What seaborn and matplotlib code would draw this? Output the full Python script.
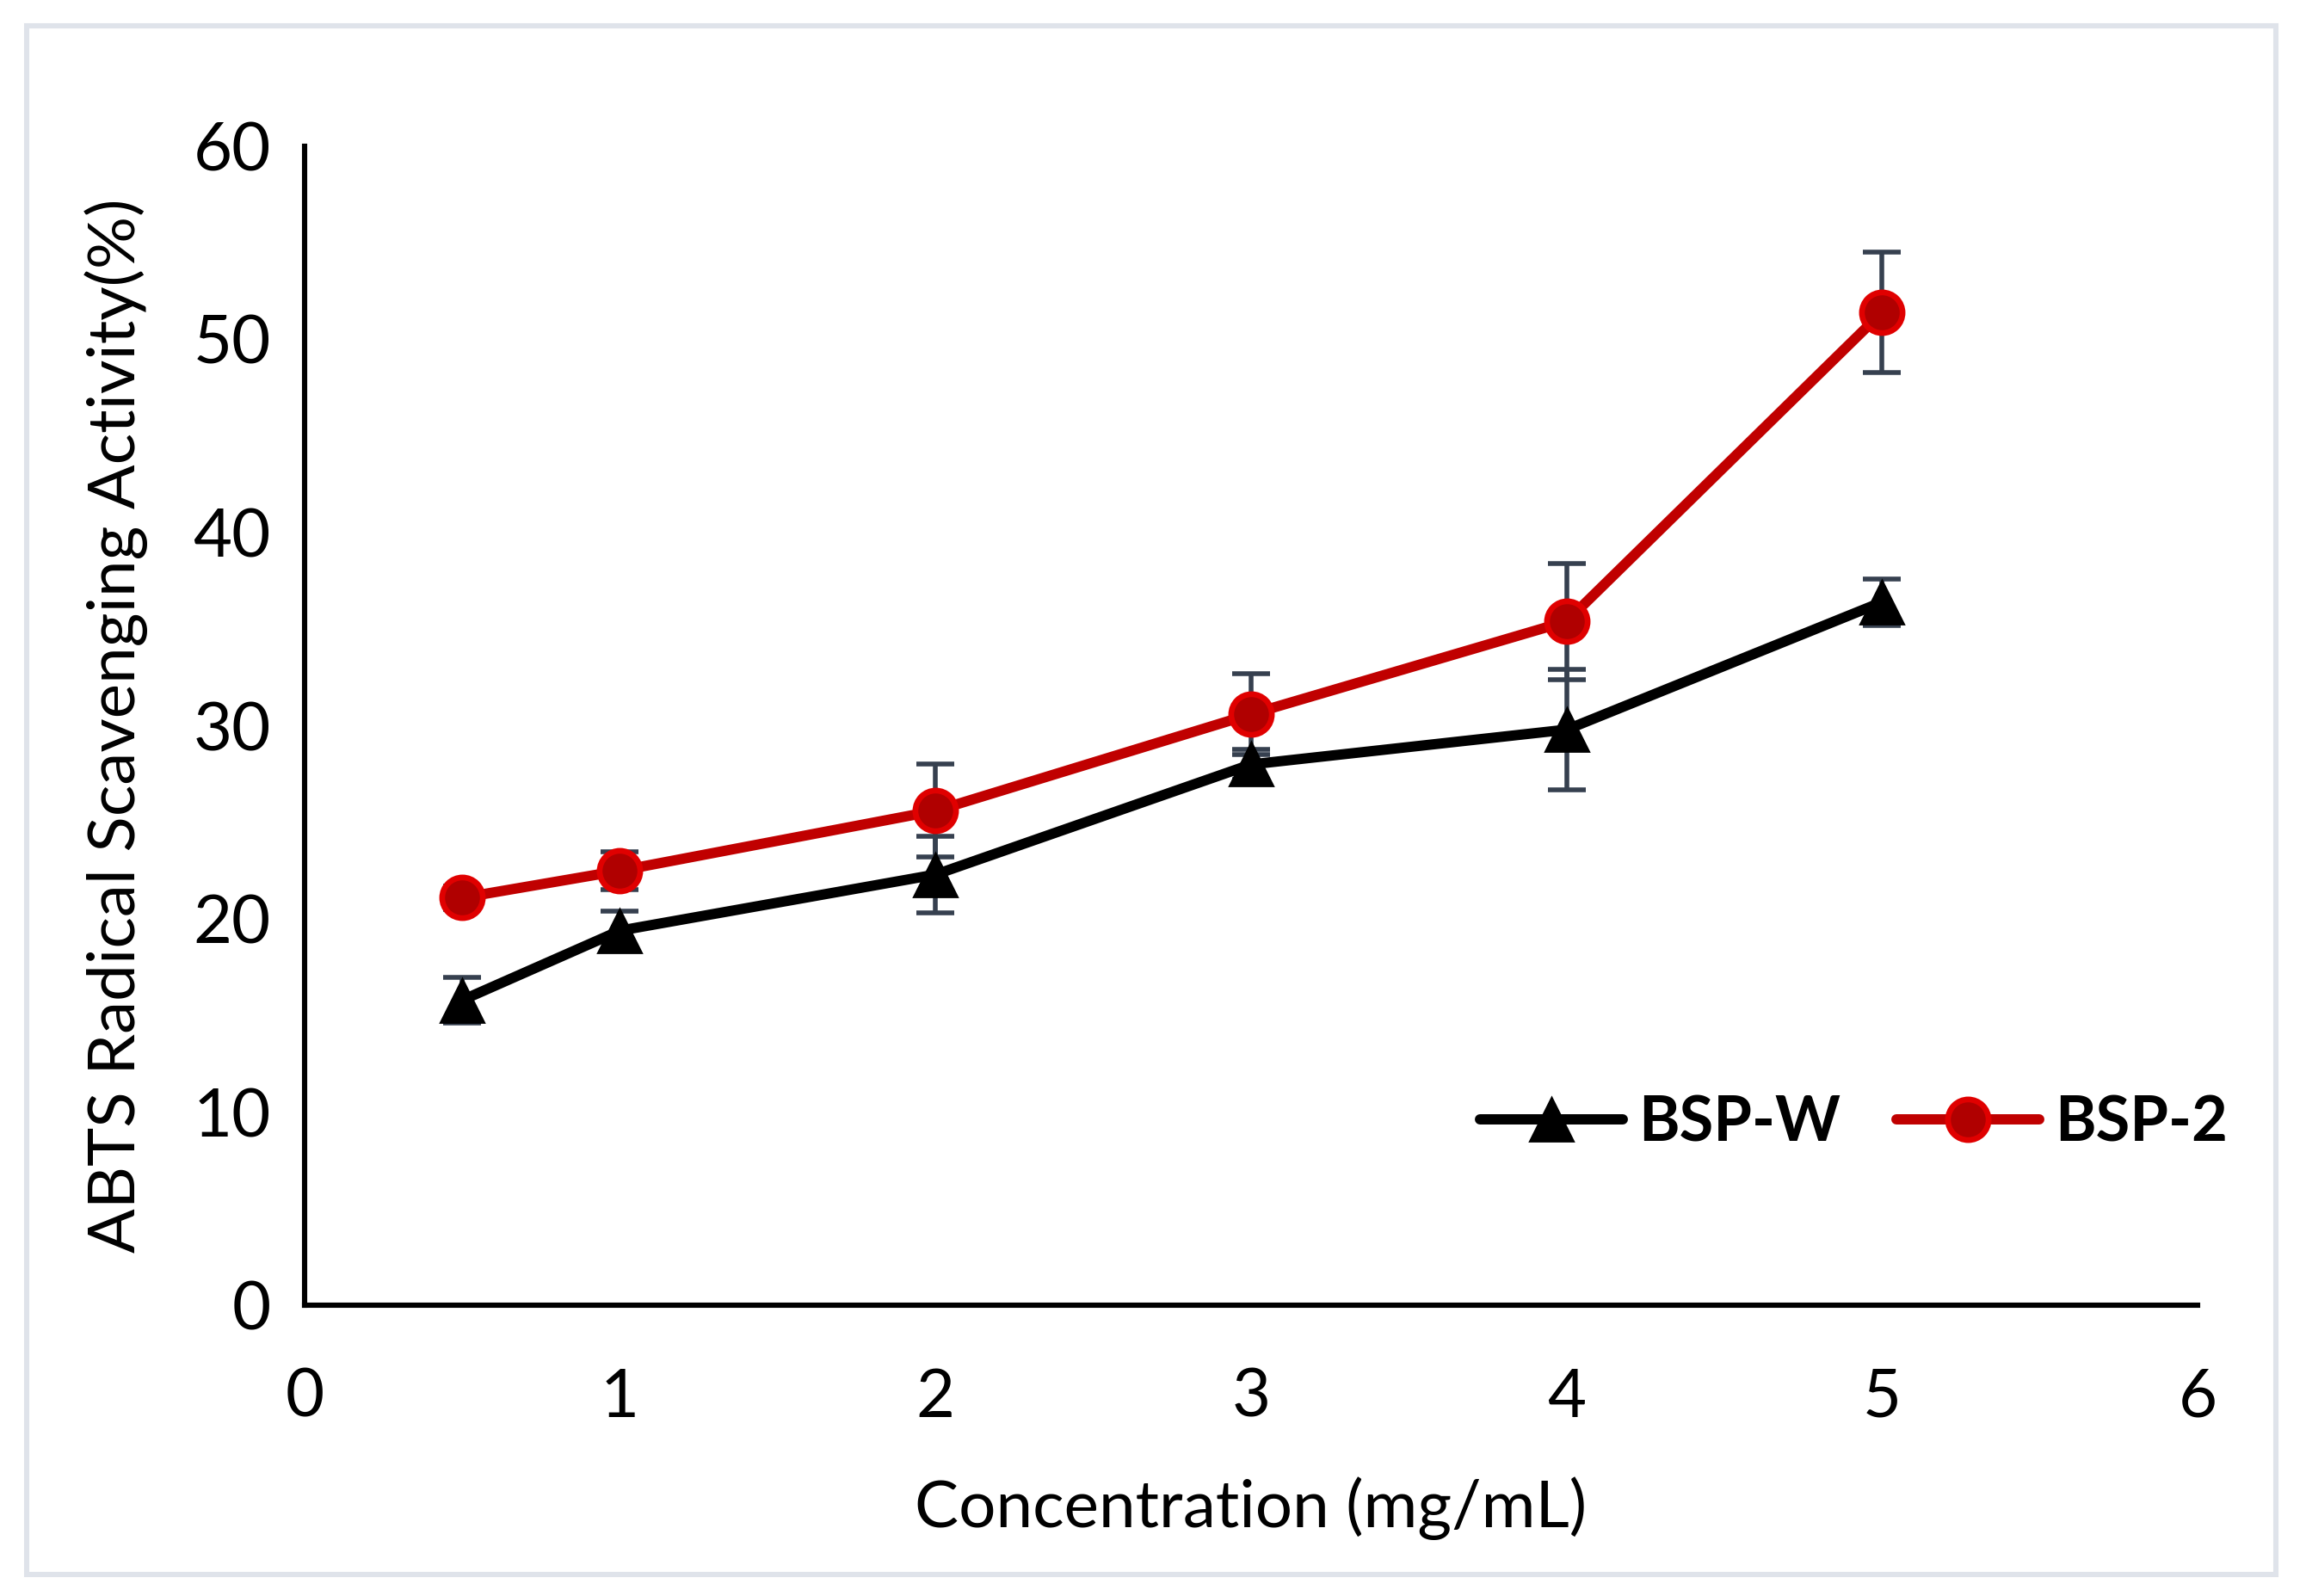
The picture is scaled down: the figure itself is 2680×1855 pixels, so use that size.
import matplotlib
matplotlib.use('Agg')
import matplotlib.pyplot as plt
import seaborn as sns
import pandas as pd
from matplotlib.patches import Rectangle

# data
conc = [0.5, 1, 2, 3, 4, 5]
bsp_w = [15.8, 19.4, 22.3, 28.0, 29.8, 36.4]
bsp_w_err = [1.2, 1.0, 2.0, 0.8, 3.1, 1.2]
bsp_2 = [21.1, 22.5, 25.6, 30.6, 35.4, 51.4]
bsp_2_err = [0.6, 1.0, 2.4, 2.1, 3.0, 3.1]

x_ticks = [0, 1, 2, 3, 4, 5, 6]
y_ticks = [0, 10, 20, 30, 40, 50, 60]

df_w = pd.DataFrame({'conc': conc, 'val': bsp_w, 'err': bsp_w_err})
df_2 = pd.DataFrame({'conc': conc, 'val': bsp_2, 'err': bsp_2_err})

sns.set_style('white')
plt.rcParams['font.family'] = ['Lato', 'DejaVu Sans']
plt.rcParams['text.color'] = 'black'
plt.rcParams['axes.labelcolor'] = 'black'

fig = plt.figure(figsize=(13.4, 9.275), dpi=200)
ax = fig.add_axes([0.132, 0.182, 0.821, 0.7265])

err_col = '#36404f'
# error bars first, under the lines and markers
for d in (df_w, df_2):
    ax.errorbar(d['conc'], d['val'], yerr=d['err'], fmt='none', ecolor=err_col,
                elinewidth=2.0, capsize=8, capthick=2.0, zorder=1)

sns.lineplot(data=df_w, x='conc', y='val', ax=ax, color='black', lw=4.3,
             marker='^', markersize=18, mec='black', mew=1, label='BSP-W', zorder=3)
sns.lineplot(data=df_2, x='conc', y='val', ax=ax, color='#c00000', lw=4.3,
             marker='o', markersize=17, mfc='#b00000', mec='#e00000', mew=2.4,
             label='BSP-2', zorder=4)

ax.set_xlim(0, 6)
ax.set_ylim(0, 60)
ax.set_xticks(x_ticks)
ax.set_yticks(y_ticks)
ax.set_xlabel('Concentration (mg/mL)', fontsize=27.5, labelpad=20)
ax.set_ylabel('ABTS Radical Scavenging Activity(%)', fontsize=27.5, labelpad=19)

for s in ['top', 'right']:
    ax.spines[s].set_visible(False)
for s in ['left', 'bottom']:
    ax.spines[s].set_linewidth(2.2)
    ax.spines[s].set_color('black')
ax.tick_params(direction='in', length=9.5, width=2.2, labelsize=28,
               colors='black', labelcolor='black')
ax.tick_params(axis='y', pad=14)
ax.tick_params(axis='x', pad=26)

leg = ax.legend(loc='center right', bbox_to_anchor=(0.977, 0.296),
                bbox_transform=fig.transFigure, ncol=2, frameon=False,
                prop={'weight': 'bold', 'size': 26}, handlelength=2.3,
                handletextpad=0.25, columnspacing=0.9, borderaxespad=0)
for t in leg.get_texts():
    t.set_color('black')

fig.patches.append(Rectangle((31 / 2680, 25 / 1855), 2614 / 2680, 1800 / 1855,
                             transform=fig.transFigure, fill=False,
                             ec='#dfe3ea', lw=2.2, zorder=0))

plt.savefig('out.png', dpi=200)
